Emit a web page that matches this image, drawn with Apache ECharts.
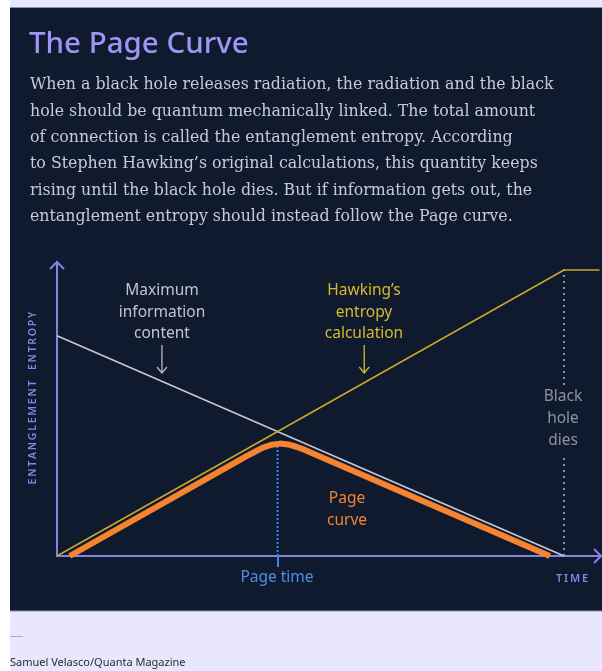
<!DOCTYPE html>
<html><head><meta charset="utf-8">
<script src="https://cdn.jsdelivr.net/npm/echarts@6/dist/echarts.min.js"></script>
<style>html,body{margin:0;padding:0;background:#fff;}#c{width:602px;height:671px;}</style>
</head><body><div id="c"></div>
<script>
// ---- data ----
var xMax = 107.3, yMax = 102.8;
var hawking = [[0,0],[100,100],[107,100]];
var maxInfo = [[0,77],[100,0]];
var pageCurve = [[2.5,0],[38,35.5],[40.5,37.8],[42.3,38.9],[44,39.3],[45.6,39],[47.2,38.2],[49,37],[97.2,0]];
var pageTime = 43.5;
var pageTimeLine = [[43.5,0],[43.5,40.6]];
var bhLower = [[100,0],[100,35.3]];
var bhUpper = [[100,59.8],[100,101.7]];
var notes = [[20.7,73.8,64],[60.6,73.8,64]]; // annotation arrows: x, yFrom, yTo
var bodyLines = [
 "When a black hole releases radiation, the radiation and the black",
 "hole should be quantum mechanically linked. The total amount",
 "of connection is called the entanglement entropy. According",
 "to Stephen Hawking\u2019s original calculations, this quantity keeps",
 "rising until the black hole dies. But if information gets out, the",
 "entanglement entropy should instead follow the Page curve."
];
var AX = '#8683e2';
var SANS = '"Noto Sans", sans-serif';
function spaced(s, sp){ return s.split('').join(sp); }

var chart = echarts.init(document.getElementById('c'), null, {renderer:'canvas'});
var graphics = [
 {type:'rect', shape:{x:10,y:0,width:592,height:671}, style:{fill:'#e9e7fd'}, z:-10, silent:true},
 {type:'rect', shape:{x:10,y:7,width:592,height:604}, style:{fill:'#0f1a2f'}, z:-9, silent:true},
 {type:'line', shape:{x1:10,y1:7.5,x2:602,y2:7.5}, style:{stroke:'#8d8fb0',lineWidth:1}, z:-8},
 {type:'line', shape:{x1:10,y1:611,x2:602,y2:611}, style:{stroke:'#8d8fb0',lineWidth:1}, z:-8},
 {type:'line', shape:{x1:10,y1:636.5,x2:23,y2:636.5}, style:{stroke:'#a9a9b8',lineWidth:1}},
 {type:'text', left:10, top:657, style:{text:'Samuel Velasco/Quanta Magazine', font:'11px '+SANS, fill:'#2a2a35'}},
 {type:'text', x:29, y:45, style:{text:'The Page Curve', font:'500 29.5px '+SANS, fill:'#9c97f3', textVerticalAlign:'middle'}}
];
bodyLines.forEach(function(t,i){
  graphics.push({type:'text', x:30, y:85+i*26.4, style:{text:t, font:'15.8px "DejaVu Serif", serif', fill:'#c9cad4', textVerticalAlign:'middle'}});
});
function ctext(lines, cx, y0, dy, color, size){
  lines.forEach(function(t,i){
    graphics.push({type:'text', x:cx, y:y0+i*dy, style:{text:t, font:size+'px '+SANS, fill:color, textAlign:'center', textVerticalAlign:'middle'}});
  });
}
ctext(['Maximum','information','content'],162,291,21.5,'#c3c4cc',15.5);
ctext(['Hawking\u2019s','entropy','calculation'],364,291,21.5,'#d8b92c',15.5);
ctext(['Black','hole','dies'],563,397,22,'#8c92a0',15.5);
ctext(['Page','curve'],347,499,22,'#f5832f',15.5);
ctext(['Page time'],277,578,0,'#4b8fe6',15.5);
graphics.push({type:'text', x:572, y:579, style:{text:spaced('TIME','\u2009'), font:'600 11px '+SANS, fill:AX, textAlign:'center', textVerticalAlign:'middle'}});
graphics.push({type:'text', x:33, y:398, rotation:Math.PI/2, style:{text:spaced('ENTANGLEMENT','\u2009') + '\u2003' + spaced('ENTROPY','\u2009'), font:'600 10.5px '+SANS, fill:AX, textAlign:'center', textVerticalAlign:'middle'}});

function arrowsRender(params, api){
  var kind = api.value(2);
  var p = api.coord([api.value(0), api.value(1)]);
  var pts = kind === 0 ? [[p[0]-7,p[1]-7],[p[0],p[1]],[p[0]-7,p[1]+7]]
                       : [[p[0]-7,p[1]+7],[p[0],p[1]],[p[0]+7,p[1]+7]];
  return {type:'polyline', shape:{points:pts}, style:{stroke:AX,lineWidth:2,fill:null}};
}
function noteRender(params, api){
  var a = api.coord([api.value(0), api.value(1)]);
  var b = api.coord([api.value(0), api.value(2)]);
  var col = params.dataIndex === 0 ? '#b9bac3' : '#d8b92c';
  return {type:'group', children:[
    {type:'line', shape:{x1:a[0],y1:a[1],x2:b[0],y2:b[1]}, style:{stroke:col,lineWidth:1.3}},
    {type:'polyline', shape:{points:[[b[0]-5,b[1]-6],[b[0],b[1]],[b[0]+5,b[1]-6]]}, style:{stroke:col,lineWidth:1.3,fill:null}}
  ]};
}

chart.setOption({
  backgroundColor:'transparent',
  animation:false,
  grid:{left:57, top:262, width:544, height:294, containLabel:false},
  xAxis:{type:'value', min:0, max:xMax, splitLine:{show:false},
    axisLine:{lineStyle:{color:AX,width:2}},
    axisTick:{show:true, customValues:[pageTime], length:11, lineStyle:{color:'#3f86e8',width:2}},
    axisLabel:{show:false}},
  yAxis:{type:'value', min:0, max:yMax, splitLine:{show:false},
    axisLine:{show:true,lineStyle:{color:AX,width:2}}, axisTick:{show:false}, axisLabel:{show:false}},
  graphic:graphics,
  series:[
    {type:'line', data:pageTimeLine, symbol:'none', lineStyle:{color:'#3f86e8',width:2,type:[2,2]}, z:1},
    {type:'line', data:bhLower, symbol:'none', lineStyle:{color:'#8c92a0',width:2,type:[2,4]}, z:1},
    {type:'line', data:bhUpper, symbol:'none', lineStyle:{color:'#8c92a0',width:2,type:[2,4]}, z:1},
    {type:'line', data:pageCurve, symbol:'none', lineStyle:{color:'#f5832f',width:6,join:'round',cap:'butt'}, z:2},
    {type:'line', data:maxInfo, symbol:'none', lineStyle:{color:'#c9cad3',width:1.5}, z:3},
    {type:'line', data:hawking, symbol:'none', lineStyle:{color:'#c9a82a',width:1.5}, z:3},
    {type:'custom', renderItem:arrowsRender, data:[[xMax,0,0],[0,yMax,1]], z:4, silent:true},
    {type:'custom', renderItem:noteRender, data:notes, z:4, silent:true}
  ]
});
</script></body></html>
